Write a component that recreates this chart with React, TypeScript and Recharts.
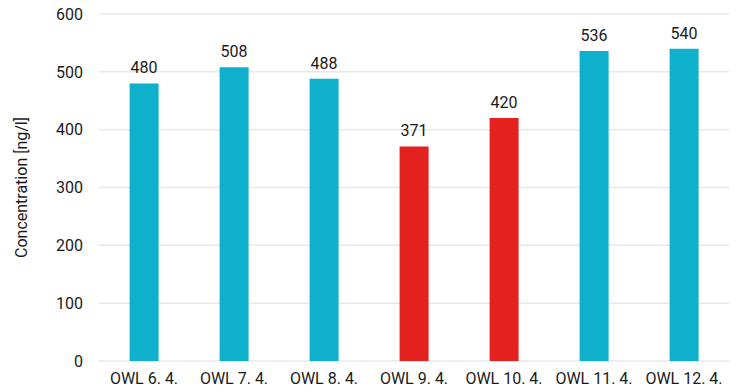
import React from "react";
import { BarChart, Bar, XAxis, YAxis, CartesianGrid, LabelList, Cell } from "recharts";

const categories = ["OWL 6. 4.", "OWL 7. 4.", "OWL 8. 4.", "OWL 9. 4.", "OWL 10. 4.", "OWL 11. 4.", "OWL 12. 4."];
const values = [480, 508, 488, 371, 420, 536, 540];
const highlighted = [false, false, false, true, true, false, false];
const yTicks = [0, 100, 200, 300, 400, 500, 600];

const CYAN = "#0fb0cc";
const RED = "#e3211f";

const data = categories.map((c, i) => ({ name: c, value: values[i], hi: highlighted[i] }));

const font = "Roboto, 'Open Sans', sans-serif";
const FS = 16;

export default function App() {
  return (
    <div style={{ position: "absolute", left: 0, top: 0, width: 737, height: 392, background: "#fff" }}>
      <BarChart width={737} height={392} data={data} margin={{ top: 14, right: 8, bottom: 1, left: 0 }} barCategoryGap="34%">
        <CartesianGrid vertical={false} stroke="#e8e8e8" strokeWidth={1.5} />
        <XAxis
          dataKey="name"
          height={30}
          axisLine={false}
          tickLine={false}
          tickMargin={6}
          interval={0}
          tick={{ fill: "#1a1a1a", fontSize: FS, fontFamily: font }}
        />
        <YAxis
          width={99}
          domain={[0, 600]}
          ticks={yTicks}
          axisLine={false}
          tickLine={false}
          tickMargin={10}
          tick={{ fill: "#1a1a1a", fontSize: FS, fontFamily: font }}
          label={{ value: "Concentration [ng/l]", angle: -90, position: "insideLeft", offset: 21, style: { textAnchor: "middle", fill: "#1a1a1a", fontSize: FS, fontFamily: font } }}
        />
        <Bar dataKey="value" isAnimationActive={false}>
          {data.map((d, i) => (
            <Cell key={i} fill={d.hi ? RED : CYAN} />
          ))}
          <LabelList dataKey="value" position="top" offset={10} style={{ fill: "#1a1a1a", fontSize: FS, fontFamily: font }} />
        </Bar>
      </BarChart>
    </div>
  );
}
